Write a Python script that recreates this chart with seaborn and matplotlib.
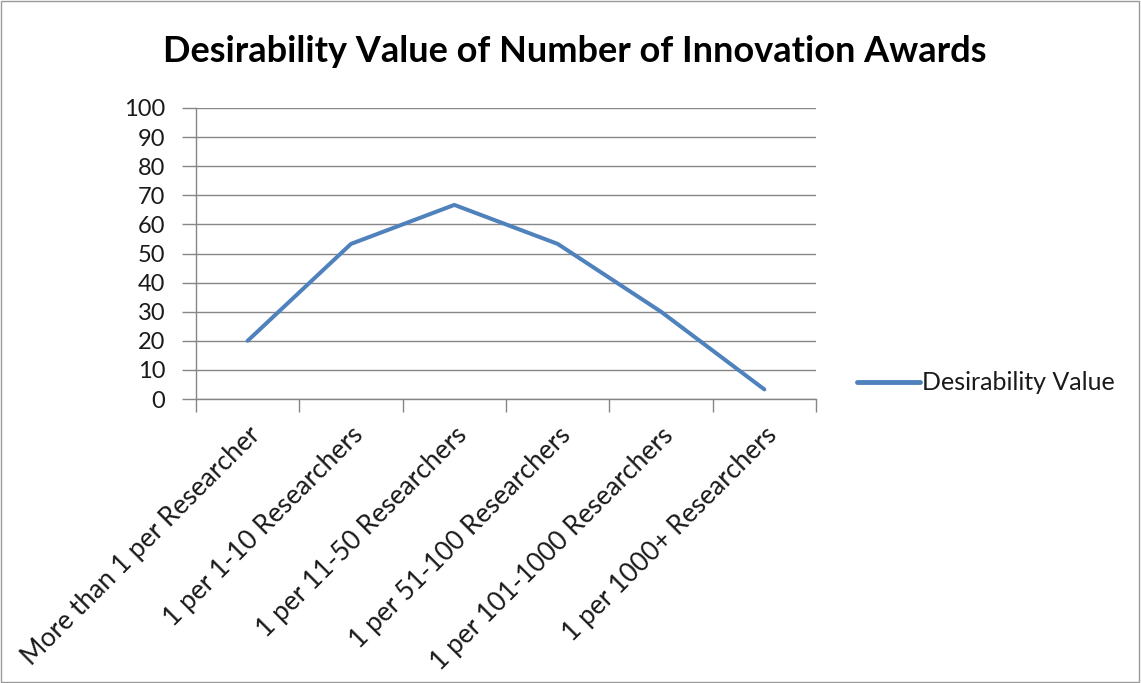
import matplotlib
matplotlib.use("Agg")
import matplotlib.pyplot as plt
import seaborn as sns
import pandas as pd
import numpy as np
from matplotlib.patches import Rectangle

categories = [
    "More than 1 per Researcher",
    "1 per 1-10 Researchers",
    "1 per 11-50 Researchers",
    "1 per 51-100 Researchers",
    "1 per 101-1000 Researchers",
    "1 per 1000+ Researchers",
]
desirability = [20, 53.3, 66.7, 53.3, 30, 3.3]
series_name = "Desirability Value"
title = "Desirability Value of Number of Innovation Awards"
y_ticks = list(range(0, 101, 10))

sns.set_theme(style="white")
plt.rcParams["font.family"] = ["Lato", "DejaVu Sans"]

df = pd.DataFrame({"pos": np.arange(len(categories)), "value": desirability,
                   "series": series_name})

axis_grey = "#868686"
fig = plt.figure(figsize=(11.41, 6.83), dpi=100)
ax = fig.add_axes([196 / 1141, 1 - 399 / 683, 620 / 1141, 291 / 683])

sns.lineplot(data=df, x="pos", y="value", hue="series", palette=["#4F81BD"],
             linewidth=2.9, ax=ax, legend=True)

ax.set_xlim(-0.5, len(categories) - 0.5)
ax.set_ylim(0, 100)
ax.set_yticks(y_ticks)
ax.yaxis.grid(True, color=axis_grey, linewidth=1.0)
ax.set_axisbelow(True)
ax.tick_params(axis="y", which="major", length=10, width=1.0, color=axis_grey,
               labelsize=17, pad=12, direction="out", left=True,
               labelcolor="#1a1a1a")

# category labels at the centres, tick marks at the boundaries
ax.set_xticks(np.arange(len(categories)))
ax.set_xticklabels(categories, rotation=45, ha="right", rotation_mode="anchor",
                   fontsize=19, color="#1a1a1a")
ax.tick_params(axis="x", which="major", length=0, pad=17)
ax.set_xticks(np.arange(-0.5, len(categories)), minor=True)
ax.tick_params(axis="x", which="minor", length=9, width=1.0, color=axis_grey,
               direction="out", bottom=True)

for side in ("top", "right"):
    ax.spines[side].set_visible(False)
for side in ("bottom", "left"):
    ax.spines[side].set_color(axis_grey)
    ax.spines[side].set_linewidth(1.0)
ax.set_xlabel("")
ax.set_ylabel("")

fig.text(0.504, 0.924, title, ha="center", va="center", fontsize=26,
         fontweight="bold", color="black")

leg = ax.legend(loc="center left", bbox_to_anchor=(1.03, 0.055), frameon=False,
                fontsize=18, handlelength=2.5, handletextpad=0.1,
                labelcolor="#1a1a1a")
for line in leg.get_lines():
    line.set_linewidth(3.5)

fig.patches.append(Rectangle((0.001, 0.001), 0.997, 0.997, transform=fig.transFigure,
                             fill=False, edgecolor="#9a9a9a", linewidth=1.0))

fig.savefig("out.png", dpi=100)
